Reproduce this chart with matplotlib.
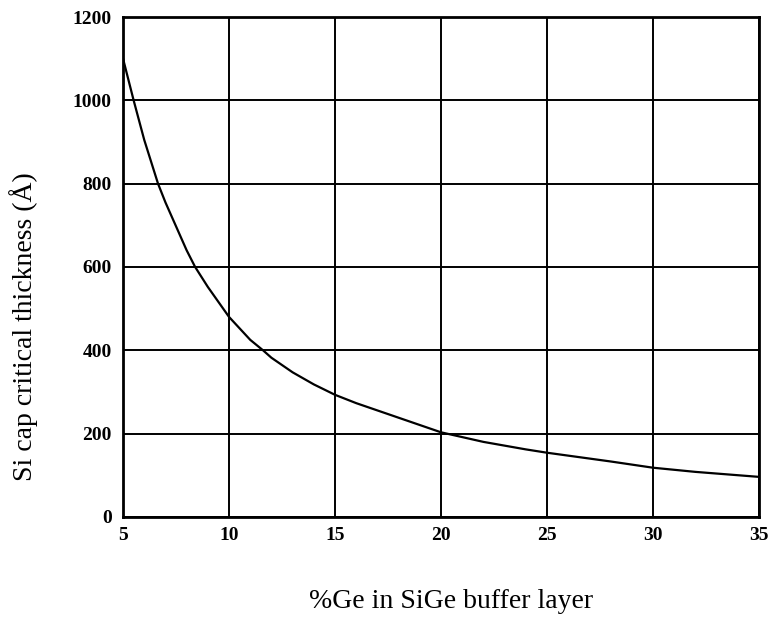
import matplotlib
matplotlib.use("Agg")
import matplotlib.pyplot as plt

# values
ge_pct = [5, 5.5, 6, 6.65, 7, 8, 8.4, 9, 10, 11, 11.6, 12, 13, 14, 15, 16, 17.6, 18,
          20, 22, 24, 25, 27, 28, 30, 32, 33, 35]
thickness = [1100, 1000, 905, 800, 755, 640, 600, 552, 480, 425, 400, 382, 347, 318, 293,
             273, 245, 238, 203, 180, 162, 154, 140, 133, 118, 108, 104, 96]

x_ticks = [5, 10, 15, 20, 25, 30, 35]
y_ticks = [0, 200, 400, 600, 800, 1000, 1200]

plt.rcParams['font.family'] = ['Liberation Serif', 'DejaVu Serif']

fig = plt.figure(figsize=(7.69, 6.19), dpi=100)
ax = fig.add_axes([0.16, 0.165, 0.827, 0.8075])

ax.plot(ge_pct, thickness, color="black", lw=1.6)

ax.set_xlim(5, 35)
ax.set_ylim(0, 1200)
ax.set_xticks(x_ticks)
ax.set_yticks(y_ticks)
ax.grid(True, color="black", lw=1.4)
ax.set_axisbelow(True)
for s in ax.spines.values():
    s.set_linewidth(2)
ax.tick_params(axis="x", length=0, pad=7, labelsize=14)
ax.tick_params(axis="y", length=0, pad=8, labelsize=14)
for lab in ax.get_xticklabels() + ax.get_yticklabels():
    lab.set_fontweight("bold")

fig.text(0.031, 0.472, "Si cap critical thickness (Å)", rotation=90,
         ha="center", va="center", fontsize=20)
fig.text(0.586, 0.018, "%Ge in SiGe buffer layer", ha="center", va="baseline",
         fontsize=20)

fig.savefig("out.png", dpi=100)
